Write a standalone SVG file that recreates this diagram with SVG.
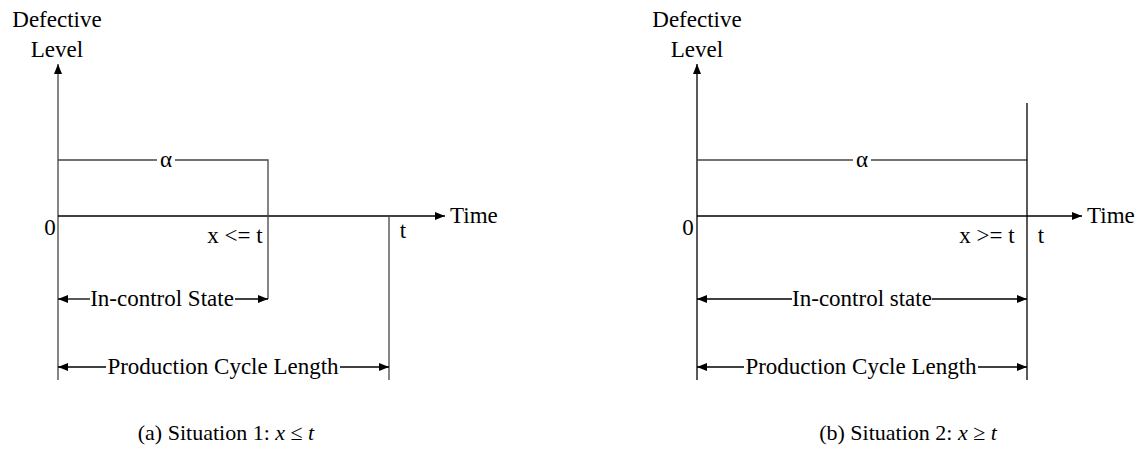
<svg xmlns="http://www.w3.org/2000/svg" width="1139" height="449" viewBox="0 0 1139 449">
<defs>
<style>
.t{font-family:"Liberation Serif","Times New Roman",serif;font-size:23px;fill:#000}
.c{font-size:22px}
.m{font-family:"Liberation Serif","Times New Roman",serif;font-style:italic}
.l{stroke:#000;stroke-width:1.3;fill:none}
.g{stroke:#444;stroke-width:1.3;fill:none}
</style>
<marker id="ah" viewBox="0 0 10 8" refX="10" refY="4" markerWidth="10" markerHeight="8" markerUnits="userSpaceOnUse" orient="auto-start-reverse">
<path d="M0,0 L10,4 L0,8 Z" fill="#000"/>
</marker>
</defs>
<rect width="1139" height="449" fill="#fff"/>

<g id="panel-a">
<g id="a-labels">
<text class="t" x="57" y="27" text-anchor="middle">Defective</text>
<text class="t" x="57" y="57" text-anchor="middle">Level</text>
<text class="t" x="50" y="235" text-anchor="middle">0</text>
<text class="t" x="450" y="223">Time</text>
<text class="t" x="235" y="243" text-anchor="middle">x &lt;= t</text>
<text class="t" x="403" y="238" text-anchor="middle">t</text>
<text class="t c" x="226" y="440" text-anchor="middle">(a) Situation 1: <tspan class="m">x</tspan> ≤ <tspan class="m">t</tspan></text>
</g>
<g id="a-connectors">
<line class="g" x1="58" y1="380" x2="58" y2="64" marker-end="url(#ah)"/>
<line class="l" x1="58" y1="216" x2="445" y2="216" marker-end="url(#ah)"/>
<polyline class="g" points="58,160 268,160 268,299"/>
<line class="g" x1="389" y1="216" x2="389" y2="380"/>
<line class="l" x1="58" y1="299" x2="90" y2="299" marker-start="url(#ah)"/>
<line class="l" x1="235" y1="299" x2="268" y2="299" marker-end="url(#ah)"/>
<line class="l" x1="58" y1="367" x2="106" y2="367" marker-start="url(#ah)"/>
<line class="l" x1="340" y1="367" x2="389" y2="367" marker-end="url(#ah)"/>
</g>
<rect x="157" y="150" width="18" height="20" fill="#fff"/>
<text class="t" x="166" y="167" text-anchor="middle">α</text>
<text class="t" x="162" y="306" text-anchor="middle">In-control State</text>
<text class="t" x="223" y="374" text-anchor="middle">Production Cycle Length</text>
</g>

<g id="panel-b">
<g id="b-labels">
<text class="t" x="697" y="27" text-anchor="middle">Defective</text>
<text class="t" x="697" y="57" text-anchor="middle">Level</text>
<text class="t" x="688" y="235" text-anchor="middle">0</text>
<text class="t" x="1087" y="223">Time</text>
<text class="t" x="987" y="243" text-anchor="middle">x &gt;= t</text>
<text class="t" x="1041" y="243" text-anchor="middle">t</text>
<text class="t c" x="908" y="440" text-anchor="middle">(b) Situation 2: <tspan class="m">x</tspan> ≥ <tspan class="m">t</tspan></text>
</g>
<g id="b-connectors">
<line class="l" x1="697" y1="380" x2="697" y2="64" marker-end="url(#ah)"/>
<line class="l" x1="697" y1="216" x2="1082" y2="216" marker-end="url(#ah)"/>
<line class="g" x1="697" y1="160" x2="1027" y2="160"/>
<line class="l" x1="1027" y1="103" x2="1027" y2="380"/>
<line class="l" x1="697" y1="299" x2="792" y2="299" marker-start="url(#ah)"/>
<line class="l" x1="932" y1="299" x2="1027" y2="299" marker-end="url(#ah)"/>
<line class="l" x1="697" y1="367" x2="744" y2="367" marker-start="url(#ah)"/>
<line class="l" x1="978" y1="367" x2="1027" y2="367" marker-end="url(#ah)"/>
</g>
<rect x="853" y="150" width="18" height="20" fill="#fff"/>
<text class="t" x="862" y="167" text-anchor="middle">α</text>
<text class="t" x="862" y="306" text-anchor="middle">In-control state</text>
<text class="t" x="861" y="374" text-anchor="middle">Production Cycle Length</text>
</g>
</svg>
